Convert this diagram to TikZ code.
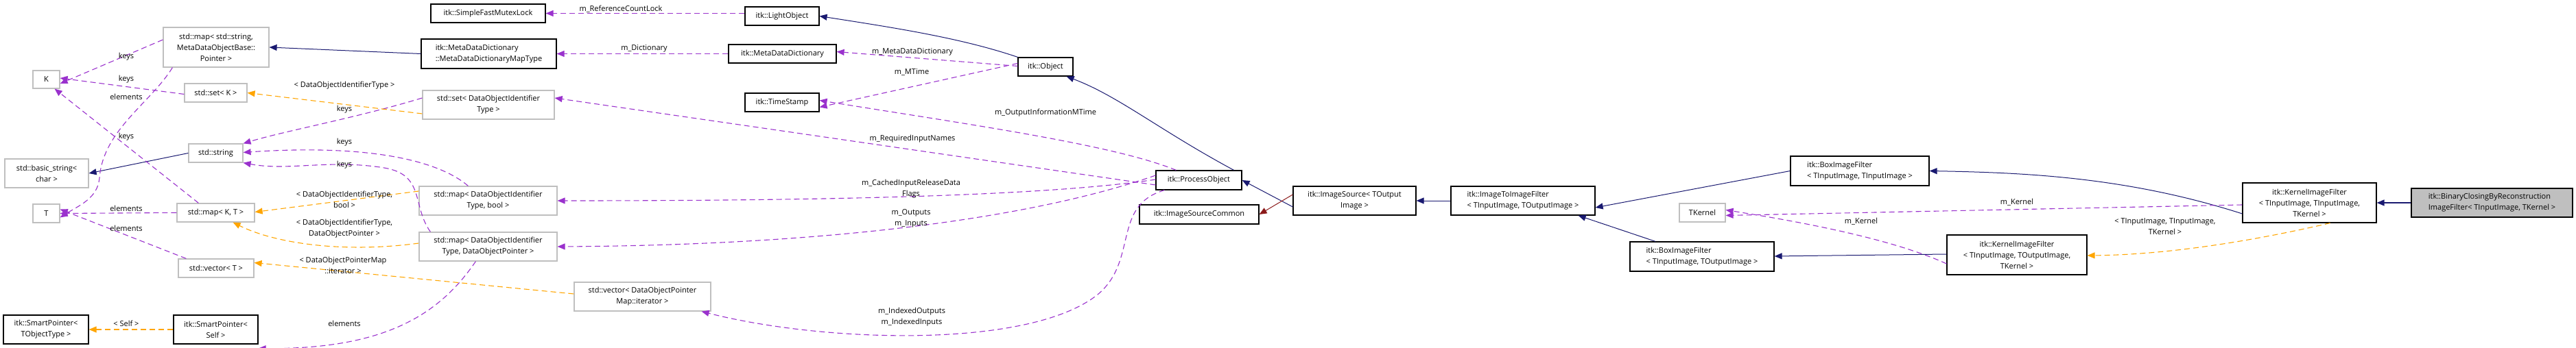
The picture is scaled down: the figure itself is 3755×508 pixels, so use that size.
\documentclass[tikz,border=0pt]{standalone}
\usepackage{fontspec}
\setmainfont{Open Sans}
\usetikzlibrary{arrows.meta}
\definecolor{navy}{HTML}{191970}
\definecolor{purp}{HTML}{9A32CD}
\definecolor{orng}{HTML}{FFA500}
\definecolor{dred}{HTML}{8B1A1A}
\definecolor{gbord}{HTML}{BFBFBF}
\begin{document}
\begin{tikzpicture}[x=1pt,y=-1pt,
  every node/.style={font=\fontsize{11}{16}\selectfont, inner sep=0pt},
  box/.style={draw=black, line width=1.2pt, fill=white, align=center},
  gbox/.style={draw=gbord, line width=1.2pt, fill=white, align=center},
  tip/.style={-{Triangle[length=11pt,width=9pt]}},
  inh/.style={tip, draw=navy, line width=1pt},
  inhr/.style={tip, draw=dred, line width=1pt},
  use/.style={tip, draw=purp, line width=1.1pt, dash pattern=on 8pt off 5pt},
  tmpl/.style={tip, draw=orng, line width=1.1pt, dash pattern=on 8pt off 5pt},
  lbl/.style={align=center}]
\useasboundingbox (0,0) rectangle (3755,508);
% nodes
\node[gbox, minimum width=39, minimum height=26] (K) at (67.5,116) {K};
\node[gbox, minimum width=39, minimum height=27] (T) at (67.5,311.5) {T};
\node[gbox, minimum width=122, minimum height=42] (bstr) at (68,253) {std::basic\_string<\\char >};
\node[box, minimum width=124, minimum height=42] (spT) at (67,481) {itk::SmartPointer<\\TObjectType >};
\node[gbox, minimum width=154, minimum height=58] (mapS) at (315,69) {std::map< std::string,\\MetaDataObjectBase::\\Pointer >};
\node[gbox, minimum width=91, minimum height=27] (setK) at (314.5,135.5) {std::set< K >};
\node[gbox, minimum width=79, minimum height=27] (str) at (314.5,223.5) {std::string};
\node[gbox, minimum width=113, minimum height=27] (mapKT) at (314.5,310.5) {std::map< K, T >};
\node[gbox, minimum width=110, minimum height=27] (vecT) at (315,391.5) {std::vector< T >};
\node[box, minimum width=123, minimum height=42] (spS) at (314.5,481) {itk::SmartPointer<\\Self >};
\node[box, minimum width=167, minimum height=27] (mutex) at (711.5,19.5) {itk::SimpleFastMutexLock};
\node[box, minimum width=197, minimum height=43, align=left] (mapType) at (712.5,78.5) {itk::MetaDataDictionary\\::MetaDataDictionaryMapType};
\node[gbox, minimum width=192, minimum height=42] (setD) at (712,153) {std::set< DataObjectIdentifier\\Type >};
\node[gbox, minimum width=201, minimum height=42] (mapB) at (711.5,293) {std::map< DataObjectIdentifier\\Type, bool >};
\node[gbox, minimum width=201, minimum height=42] (mapP) at (711.5,360) {std::map< DataObjectIdentifier\\Type, DataObjectPointer >};
\node[gbox, minimum width=199, minimum height=42] (vecI) at (936.5,433) {std::vector< DataObjectPointer\\Map::iterator >};
\node[box, minimum width=108, minimum height=27] (light) at (1140,23.5) {itk::LightObject};
\node[box, minimum width=157, minimum height=27] (mdd) at (1140.5,78.5) {itk::MetaDataDictionary};
\node[box, minimum width=80, minimum height=27] (obj) at (1524,97.5) {itk::Object};
\node[box, minimum width=108, minimum height=27] (ts) at (1140,149.5) {itk::TimeStamp};
\node[box, minimum width=125, minimum height=28] (po) at (1747.5,263) {itk::ProcessObject};
\node[box, minimum width=174, minimum height=28] (isc) at (1748,313) {itk::ImageSourceCommon};
\node[box, minimum width=179, minimum height=42] (is) at (1974.5,293) {itk::ImageSource< TOutput\\Image >};
\node[box, minimum width=210, minimum height=42, align=left] (i2i) at (2220,293) {itk::ImageToImageFilter\\< TInputImage, TOutputImage >};
\node[box, minimum width=202, minimum height=43, align=left] (boxT) at (2711,249.5) {itk::BoxImageFilter\\< TInputImage, TInputImage >};
\node[gbox, minimum width=67, minimum height=27] (tk) at (2481.5,310.5) {TKernel};
\node[box, minimum width=210, minimum height=43, align=left] (boxB) at (2481,374.5) {itk::BoxImageFilter\\< TInputImage, TOutputImage >};
\node[box, minimum width=195, minimum height=58] (kerT) at (3366.5,296) {itk::KernelImageFilter\\< TInputImage, TInputImage,\\TKernel >};
\node[box, fill=gbord, minimum width=235, minimum height=42, align=left] (bin) at (3632.5,296) {itk::BinaryClosingByReconstruction\\ImageFilter< TInputImage, TKernel >};
\node[box, minimum width=204, minimum height=58] (kerB) at (2940,372) {itk::KernelImageFilter\\< TInputImage, TOutputImage,\\TKernel >};
% inheritance
\draw[inh] (mapType.west) -- (mapS.east);
\draw[inh] (str.west) -- (bstr.east);
\draw[inh] (obj.north west) .. controls (1400,55) and (1300,40) .. (light.east);
\draw[inh] ([xshift=-12pt]po.north east) .. controls (1690,190) and (1630,140) .. ([xshift=-10pt]obj.south east);
\draw[inh] ([yshift=-9pt]is.west) -- (po.east);
\draw[inhr] ([yshift=9pt]is.west) -- (isc.east);
\draw[inh] (i2i.west) -- (is.east);
\draw[inh] (boxT.west) -- ([yshift=-10pt]i2i.east);
\draw[inh] ([xshift=-68pt]boxB.north) -- ([xshift=-25pt]i2i.south east);
\draw[inh] ([yshift=-16pt]kerT.west) .. controls (3100,258) and (2950,252) .. (boxT.east);
\draw[inh] ([yshift=1pt]kerB.west) -- ([yshift=0.5pt]boxB.east);
\draw[inh, line width=1.6pt] (bin.west) -- (kerT.east);
% usage (purple)
\draw[use] ([yshift=11pt]mapS.west) -- ([yshift=-6pt]K.east);
\draw[use] ([yshift=-2pt]setK.west) -- ([yshift=2pt]K.east);
\draw[use] ([xshift=14pt]mapS.south west) .. controls (220,150) and (150,190) .. (145,260) .. controls (142,290) and (115,300) .. ([yshift=-6pt]T.east);
\draw[use] ([xshift=32pt]mapKT.north west) -- ([xshift=-8pt]K.south east);
\draw[use] (mapKT.west) -- (T.east);
\draw[use] ([xshift=12pt]vecT.north west) -- ([yshift=6pt]T.east);
\draw[use] ([yshift=10pt]setD.west) .. controls (520,172) and (420,190) .. (str.north east);
\draw[use] ([xshift=72pt]mapB.north west) .. controls (640,235) and (540,210) .. ([yshift=1pt]str.east);
\draw[use] ([xshift=17pt]mapP.north west) .. controls (600,300) and (620,255) .. (560,245) .. controls (480,232) and (420,250) .. (str.south east);
\draw[use] ([xshift=83pt]mapP.south west) .. controls (640,460) and (560,510) .. ([yshift=-6pt]spS.south east);
\draw[use] ([yshift=4pt]light.west) -- (mutex.east);
\draw[use] (mdd.west) -- (mapType.east);
\draw[use] ([yshift=1pt]obj.west) -- ([yshift=3pt]mdd.east);
\draw[use] ([yshift=5pt]obj.west) -- ([yshift=-7pt]ts.east);
\draw[use] ([xshift=30pt]po.north west) .. controls (1620,210) and (1400,180) .. ([yshift=3pt]ts.east);
\draw[use] ([yshift=-7pt]po.west) -- ([yshift=10pt]setD.east);
\draw[use] ([yshift=1pt]po.west) .. controls (1500,290) and (1100,293) .. (mapB.east);
\draw[use] ([yshift=7pt]po.west) .. controls (1500,320) and (1200,358) .. (mapP.east);
\draw[use] ([xshift=13pt]po.south west) .. controls (1620,300) and (1660,380) .. (1600,430) .. controls (1500,510) and (1200,500) .. ([xshift=-14pt]vecI.south east);
\draw[use] ([yshift=-3pt]kerT.west) -- ([yshift=-4pt]tk.east);
\draw[use] ([yshift=-13pt]kerB.west) .. controls (2750,345) and (2600,320) .. ([yshift=4pt]tk.east);
% template (orange)
\draw[tmpl] ([yshift=-13pt]setD.west) -- (setK.east);
\draw[tmpl] ([yshift=14pt]mapB.west) -- ([yshift=1pt]mapKT.east);
\draw[tmpl] ([yshift=5pt]mapP.west) .. controls (500,370) and (400,355) .. ([xshift=-32pt]mapKT.south east);
\draw[tmpl] ([yshift=4pt]vecI.west) -- ([yshift=8pt]vecT.east);
\draw[tmpl] (spS.west) -- (spT.east);
\draw[tmpl] ([xshift=-68pt]kerT.south east) .. controls (3270,355) and (3150,372) .. ([yshift=-1pt]kerB.east);
% labels
\node[lbl] (l1) at (184,83) {keys};
\node[lbl] (l2) at (184,116) {keys};
\node[lbl] (l3) at (184,141) {elements};
\node[lbl] (l4) at (184,200) {keys};
\node[lbl] (l5) at (184,304) {elements};
\node[lbl] (l6) at (184,333) {elements};
\node[lbl] (l7) at (184,472) {< Self >};
\node[lbl] (l8) at (502,125) {< DataObjectIdentifierType >};
\node[lbl] (l9) at (502,160) {keys};
\node[lbl] (l10) at (502,208) {keys};
\node[lbl] (l11) at (502,241) {keys};
\node[lbl] (l12) at (502,291) {< DataObjectIdentifierType,\\bool >};
\node[lbl] (l13) at (502,334) {< DataObjectIdentifierType,\\DataObjectPointer >};
\node[lbl] (l14) at (500,387) {< DataObjectPointerMap\\::iterator >};
\node[lbl] (l15) at (502,472) {elements};
\node[lbl] (l16) at (905,13) {m\_ReferenceCountLock};
\node[lbl] (l17) at (939,71) {m\_Dictionary};
\node[lbl] (l18) at (1330,76) {m\_MetaDataDictionary};
\node[lbl] (l19) at (1329,105) {m\_MTime};
\node[lbl] (l20) at (1524,165) {m\_OutputInformationMTime};
\node[lbl] (l21) at (1330,203) {m\_RequiredInputNames};
\node[lbl] (l22) at (1328,276) {m\_CachedInputReleaseData\\Flags};
\node[lbl] (l23) at (1328,319) {m\_Outputs\\m\_Inputs};
\node[lbl] (l24) at (1329,463) {m\_IndexedOutputs\\m\_IndexedInputs};
\node[lbl] (l25) at (2940,295) {m\_Kernel};
\node[lbl] (l26) at (2713,323) {m\_Kernel};
\node[lbl] (l27) at (3156,331) {< TInputImage, TInputImage,\\TKernel >};
\end{tikzpicture}
\end{document}
